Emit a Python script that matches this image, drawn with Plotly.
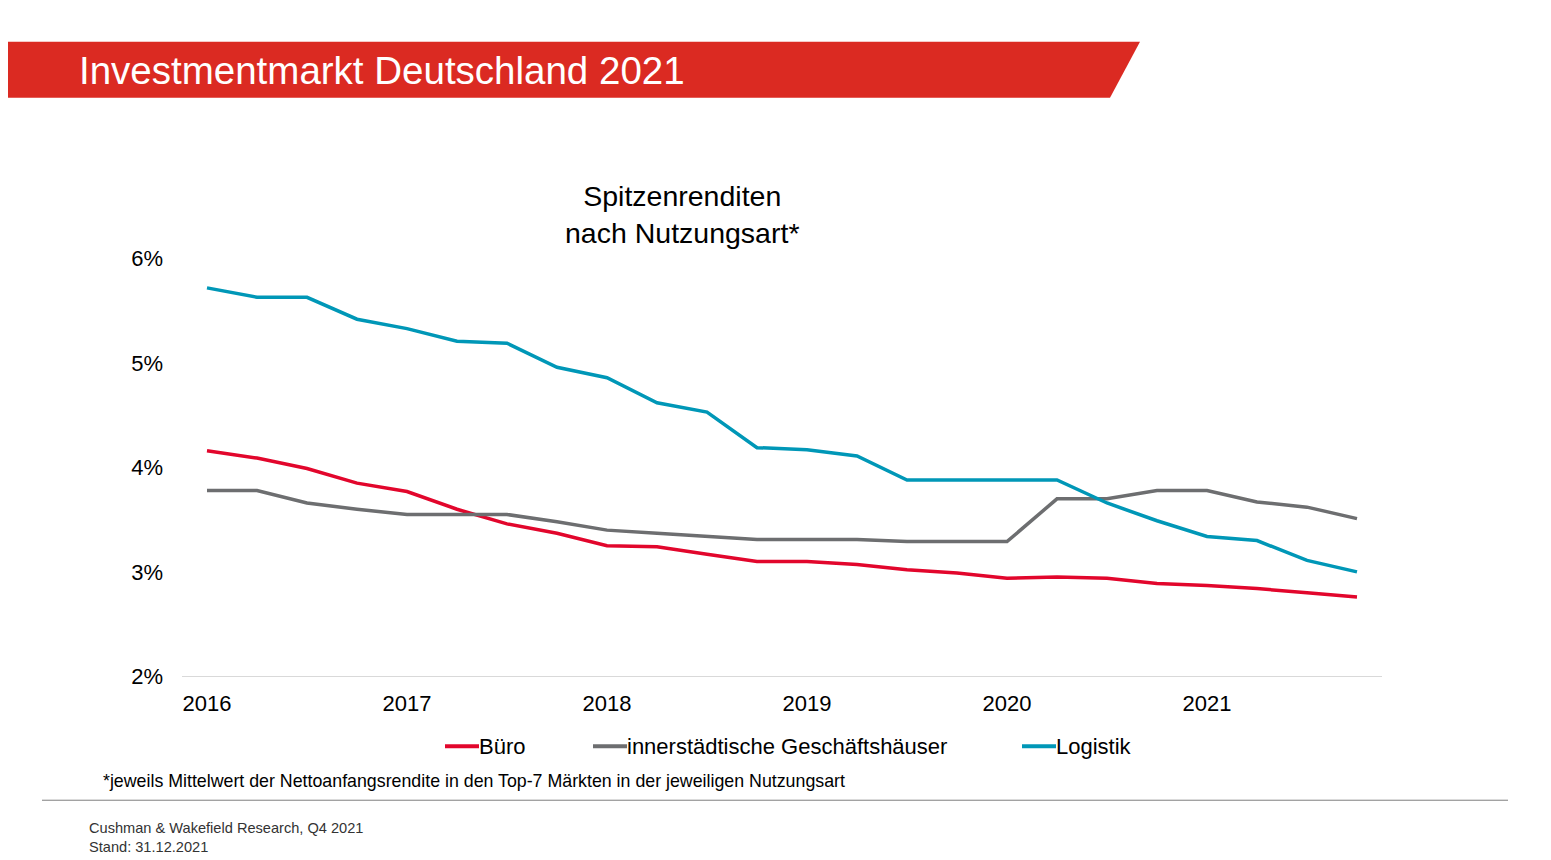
import plotly.graph_objects as go

W, H = 1551, 860

quarters = [2016 + i * 0.25 for i in range(24)]
buero = [4.16, 4.09, 3.99, 3.85, 3.77, 3.60, 3.46, 3.37, 3.25, 3.24, 3.17, 3.10,
         3.10, 3.07, 3.02, 2.99, 2.94, 2.95, 2.94, 2.89, 2.87, 2.84, 2.80, 2.76]
geschaeft = [3.78, 3.78, 3.66, 3.60, 3.55, 3.55, 3.55, 3.48, 3.40, 3.37, 3.34, 3.31,
             3.31, 3.31, 3.29, 3.29, 3.29, 3.70, 3.70, 3.78, 3.78, 3.67, 3.62, 3.51]
logistik = [5.72, 5.63, 5.63, 5.42, 5.33, 5.21, 5.19, 4.96, 4.86, 4.62, 4.53, 4.19,
            4.17, 4.11, 3.88, 3.88, 3.88, 3.88, 3.66, 3.49, 3.34, 3.30, 3.11, 3.00]
year_ticks = [2016, 2017, 2018, 2019, 2020, 2021]

FONT = "Liberation Sans, Arial, sans-serif"


def px(x):
    # page offset of the rendered figure
    return (x - 8) / W


def py(y):
    y = 41 + (y - 59) / 0.9717
    return 1 - y / H


series = [("Büro", buero, "#E2062C", 445),
          ("innerstädtische Geschäftshäuser", geschaeft, "#6D6E70", 593),
          ("Logistik", logistik, "#0097B7", 1022)]

fig = go.Figure()
for name, vals, col, _ in series:
    fig.add_trace(go.Scatter(x=quarters, y=vals, name=name, mode="lines",
                             line=dict(color=col, width=3.5), showlegend=False))

fig.update_layout(
    width=W, height=H, margin=dict(l=0, r=0, t=0, b=0),
    paper_bgcolor="white", plot_bgcolor="white",
    font=dict(family=FONT, color="#000000"),
    xaxis=dict(domain=[px(182), px(1382)], range=[2015.875, 2021.875],
               tickvals=year_ticks, ticktext=[str(y) for y in year_ticks],
               showgrid=False, zeroline=False, showline=True, linecolor="#D9D9D9",
               tickfont=dict(size=22), ticks="", ticklabelstandoff=7),
    yaxis=dict(domain=[py(676), py(258)], range=[2, 6], dtick=1, ticksuffix="%",
               showgrid=False, zeroline=False, tickfont=dict(size=22), ticks="",
               ticklabelstandoff=18),
    showlegend=False,
)

# manual legend
for name, vals, col, x0 in series:
    fig.add_shape(type="line", xref="paper", yref="paper", x0=px(x0), x1=px(x0 + 34),
                  y0=py(746), y1=py(746), line=dict(color=col, width=4))
    fig.add_annotation(text=name, xref="paper", yref="paper", x=px(x0 + 34), y=py(746),
                       xanchor="left", yanchor="middle", showarrow=False,
                       font=dict(size=22), xshift=-2)

# red banner
fig.add_shape(type="path", xref="paper", yref="paper", line_width=0, fillcolor="#DB2A22",
              path=f"M {px(-10)} {py(41)} L {px(1140)} {py(41)} L {px(1110)} {py(97)} L {px(-10)} {py(97)} Z")
fig.add_annotation(text="Investmentmarkt Deutschland 2021", xref="paper", yref="paper",
                   x=px(77), y=py(70), xanchor="left", yanchor="middle", showarrow=False,
                   font=dict(size=38.5, color="white"))
fig.add_annotation(text="Spitzenrenditen<br>nach Nutzungsart*", xref="paper", yref="paper",
                   x=px(682), y=py(214), xanchor="center", yanchor="middle", showarrow=False,
                   font=dict(size=28.5))
fig.add_annotation(text="*jeweils Mittelwert der Nettoanfangsrendite in den Top-7 Märkten in der jeweiligen Nutzungsart",
                   xref="paper", yref="paper", x=px(101), y=py(781), xanchor="left",
                   yanchor="middle", showarrow=False, font=dict(size=17.8))
fig.add_shape(type="line", xref="paper", yref="paper", x0=px(42), x1=px(1508),
              y0=py(800), y1=py(800), line=dict(color="#7F7F7F", width=1))
fig.add_annotation(text="Cushman & Wakefield Research, Q4 2021<br>Stand: 31.12.2021",
                   xref="paper", yref="paper", x=px(87), y=py(837), xanchor="left",
                   yanchor="middle", align="left", showarrow=False,
                   font=dict(size=14.6, color="#333333"))

fig.write_html("out.html")
